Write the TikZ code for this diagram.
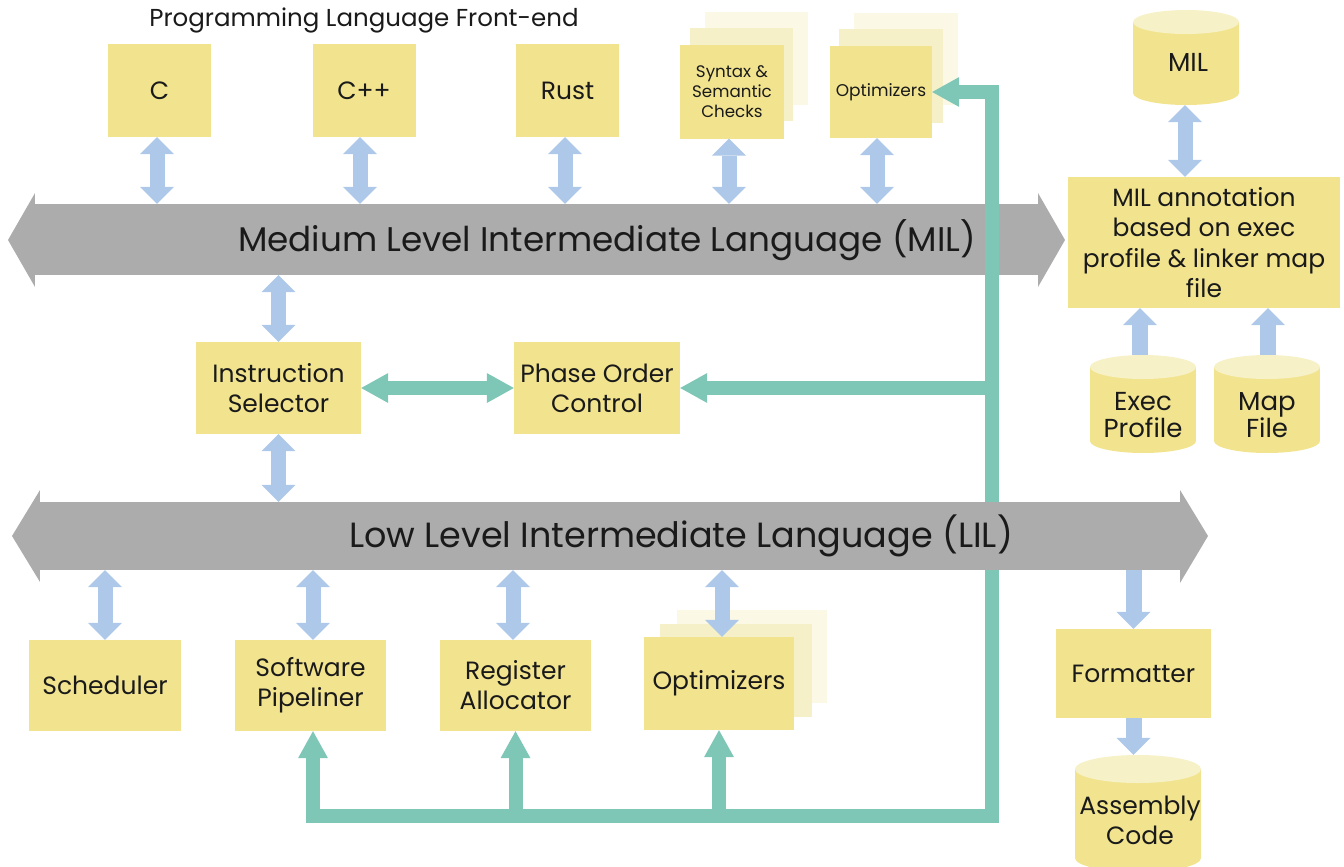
\documentclass[tikz,border=0pt]{standalone}
\usepackage{fontspec}
\setmainfont{Poppins}
\usetikzlibrary{arrows.meta}

\definecolor{boxY}{HTML}{F2E48F}
\definecolor{boxY2}{HTML}{F6F0C8}
\definecolor{boxY3}{HTML}{FBF8E6}
\definecolor{cylTop}{HTML}{F7F1C8}
\definecolor{barG}{HTML}{ABACAB}
\definecolor{linkB}{HTML}{ADC8E8}
\definecolor{flowT}{HTML}{7EC6B6}
\definecolor{ink}{HTML}{1A1A1A}

% database drum: name, centre x, top y, bottom y, half width, end radius
\newcommand\drum[6]{%
  \fill[boxY] ({#2-#5},{#3+#6}) rectangle ({#2+#5},{#4-#6});
  \fill[boxY] (#2,{#4-#6}) ellipse [x radius=#5, y radius=#6];
  \fill[cylTop] (#2,{#3+#6}) ellipse [x radius=#5, y radius=#6];
  \node[inner sep=0, minimum width={2*#5*1pt}, minimum height={(#4-#3)*1pt}]
    (#1) at (#2,{(#3+#4)/2}) {};
}

\begin{document}
\begin{tikzpicture}[x=1pt, y=-1pt,
  box/.style={fill=boxY, inner sep=0, align=center, text=ink,
    font=\fontsize{25}{30}\selectfont},
  sz/.style 2 args={minimum width=#1pt, minimum height=#2pt},
  layerA/.style={fill=boxY2, inner sep=0},
  layerB/.style={fill=boxY3, inner sep=0},
  lbl/.style={inner sep=0, align=center, text=ink, font=\fontsize{25}{30}\selectfont},
  bar/.style={fill=barG, inner sep=0},
  bartext/.style={inner sep=0, text=ink},
  blink/.style={draw=linkB, line width=15pt,
    {Triangle[length=17pt,width=34pt,line width=0pt]}-{Triangle[length=17pt,width=34pt,line width=0pt]}},
  bdown/.style={draw=linkB, line width=16pt,
    -{Triangle[length=17pt,width=34pt,line width=0pt]}},
  tflow/.style={draw=flowT, line width=14pt, line join=miter},
  ttip/.style={{Triangle[length=27pt,width=30pt,line width=0pt]}-},
  ttwo/.style={{Triangle[length=27pt,width=30pt,line width=0pt]}-{Triangle[length=27pt,width=30pt,line width=0pt]}},
]
\useasboundingbox (0,0) rectangle (1344,867);

% ---- title
\node[lbl, font=\fontsize{24.5}{29}\selectfont] (title) at (364,20) {Programming Language Front-end};

% ---- front-end boxes
\node[box, sz={103}{93}] (c)   at (159.5,90.5) {C};
\node[box, sz={103}{93}] (cpp) at (364,90.5) {C++};
\node[box, sz={103}{93}] (rust) at (567.5,90.5) {Rust};

\node[layerB, sz={103}{93}] (syn3) at (756,58.5) {};
\node[layerA, sz={103}{93}] (syn2) at (741.5,74.5) {};
\node[box, sz={104}{93}, font=\fontsize{16.7}{20}\selectfont] (syn) at (732,92)
  {Syntax \&\\Semantic\\Checks};

\node[layerB, sz={104}{92}] (optT3) at (906,59) {};
\node[layerA, sz={104}{94}] (optT2) at (891,76) {};
\node[box, sz={102}{92}, font=\fontsize{17}{20}\selectfont] (optT) at (881,92) {Optimizers};

% ---- middle boxes
\node[box, sz={165}{92}] (isel) at (278.5,388) {Instruction\\Selector};
\node[box, sz={166}{92}] (poc)  at (597,388) {Phase Order\\Control};

% ---- back-end boxes
\node[box, sz={152}{91}] (sched) at (105,685.5) {Scheduler};
\node[box, sz={151}{91}] (sp)    at (310.5,685.5) {Software\\Pipeliner};
\node[box, sz={151}{91}] (ra)    at (515.5,685.5) {Register\\Allocator};
\node[layerB, sz={150}{93}] (optB3) at (752,656.5) {};
\node[layerA, sz={152}{93}] (optB2) at (736,670.5) {};
\node[box, sz={150}{93}] (optB) at (719,683.5) {Optimizers};

% ---- right column
\drum{milDb}{1186}{10}{105}{53}{12}
\node[lbl, font=\fontsize{26}{30}\selectfont] (milT) at (1188,62) {MIL};
\node[box, sz={272}{131}, font=\fontsize{25}{30.5}\selectfont] (annot) at (1204,242.5)
  {MIL annotation\\based on exec\\profile \& linker map\\file};
\drum{execDb}{1143}{355}{453}{53}{12}
\node[lbl, font=\fontsize{26}{26.5}\selectfont] (execT) at (1143,415) {Exec\\Profile};
\drum{mapDb}{1267}{355}{453}{53}{12}
\node[lbl, font=\fontsize{26}{26.5}\selectfont] (mapT) at (1267,415) {Map\\File};

\node[box, sz={155}{89}] (fmt) at (1133.5,673.5) {Formatter};
\drum{asmDb}{1138}{755}{872}{63}{14}
\node[lbl] (asmT) at (1140,820) {Assembly\\Code};

% ---- medium level bar
\node[bar, sz={1003}{71}] (mil) at (536.5,239.5) {};
\fill[barG] (mil.north west) -- (35,193) -- (8,240) -- (35,287) -- (mil.south west) -- cycle;
\fill[barG] (mil.north east) -- (1038,193) -- (1065,240) -- (1038,287) -- (mil.south east) -- cycle;
\node[bartext, font=\fontsize{34.2}{40}\selectfont] (milLbl) at (607,240)
  {Medium Level Intermediate Language (MIL)};

% ---- phase-order control flow (runs over the MIL bar, under the LIL bar)
\coordinate (busBot) at (992,816);
\draw[tflow, ttwo] (isel.east) -- (poc.east -| poc.west);
\draw[tflow, ttwo] ([xshift=2.5pt]sp.south) -- ([xshift=2.5pt]sp.south |- busBot) -- (busBot)
  -- (busBot |- optT.east) -- (optT.east);
\draw[tflow, ttip] (ra.south) -- (ra.south |- busBot);
\draw[tflow, ttip] (optB.south) -- (optB.south |- busBot);
\draw[tflow, ttip] (poc.east) -- (poc.east -| busBot);

% ---- low level bar
\node[bar, sz={1140}{68}] (lil) at (610,536) {};
\fill[barG] (lil.north west) -- (40,490) -- (12,536) -- (40,582) -- (lil.south west) -- cycle;
\fill[barG] (lil.north east) -- (1180,490) -- (1208,536) -- (1180,583) -- (lil.south east) -- cycle;
\node[bartext, font=\fontsize{35}{40}\selectfont] (lilLbl) at (681,536)
  {Low Level Intermediate Language (LIL)};

% ---- blue links
\draw[blink] ([xshift=-2.5pt]c.south) -- ([xshift=-2.5pt]c.south |- mil.north);
\draw[blink] ([xshift=-4pt]cpp.south) -- ([xshift=-4pt]cpp.south |- mil.north);
\draw[blink] ([xshift=-2.5pt]rust.south) -- ([xshift=-2.5pt]rust.south |- mil.north);
\draw[blink] ([xshift=-3pt]syn.south) -- ([xshift=-3pt]syn.south |- mil.north);
\draw[blink] ([xshift=-4pt]optT.south) -- ([xshift=-4pt]optT.south |- mil.north);
\draw[blink] (isel.north) -- (isel.north |- mil.south);
\draw[blink] (isel.south) -- (isel.south |- lil.north);
\draw[blink] (sched.north) -- (sched.north |- lil.south);
\draw[blink] ([xshift=2.5pt]sp.north) -- ([xshift=2.5pt]sp.north |- lil.south);
\draw[blink] ([xshift=-2.5pt]ra.north) -- ([xshift=-2.5pt]ra.north |- lil.south);
\draw[blink] ([xshift=3pt]optB.north) -- ([xshift=3pt]optB.north |- lil.south);
\draw[blink] ([xshift=-1pt]milDb.south) -- ([xshift=-1pt]milDb.south |- annot.north);
\draw[bdown] ([xshift=-3pt]execDb.north) -- ([xshift=-3pt]execDb.north |- annot.south);
\draw[bdown] ([xshift=1pt]mapDb.north) -- ([xshift=1pt]mapDb.north |- annot.south);
\draw[bdown] (fmt.north |- lil.south) -- (fmt.north);
\draw[bdown] (fmt.south) -- (fmt.south |- asmDb.north);
\end{tikzpicture}
\end{document}
